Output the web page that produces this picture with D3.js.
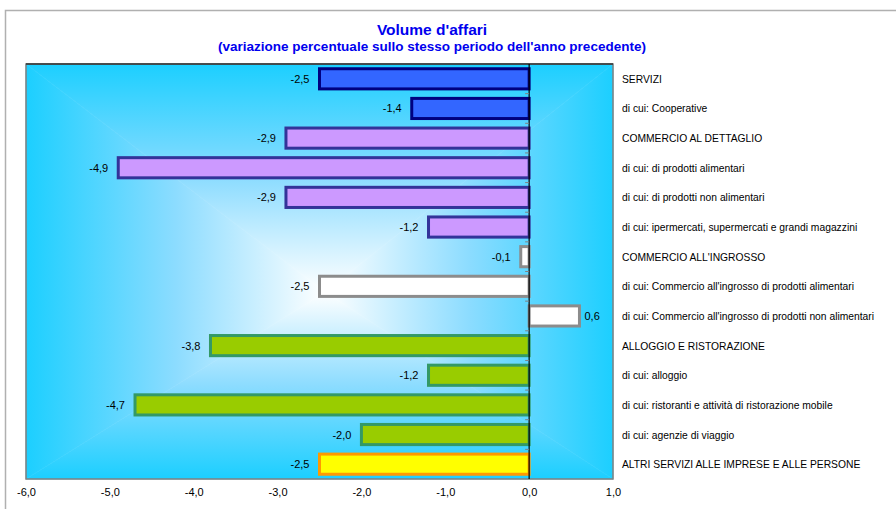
<!DOCTYPE html>
<html>
<head>
<meta charset="utf-8">
<script src="https://d3js.org/d3.v7.min.js"></script>
<style>
  body { margin: 0; background: #fff; }
  svg { display: block; font-family: Arial, "Liberation Sans", sans-serif; }
</style>
</head>
<body>
<svg id="chart" width="896" height="509"></svg>
<script>
"use strict";

var categories = [
    "SERVIZI",
    "di cui: Cooperative",
    "COMMERCIO AL DETTAGLIO",
    "di cui: di prodotti alimentari",
    "di cui: di prodotti non alimentari",
    "di cui: ipermercati, supermercati e grandi magazzini",
    "COMMERCIO ALL'INGROSSO",
    "di cui: Commercio all'ingrosso di prodotti alimentari",
    "di cui: Commercio all'ingrosso di prodotti non alimentari",
    "ALLOGGIO E RISTORAZIONE",
    "di cui: alloggio",
    "di cui: ristoranti e attività di ristorazione mobile",
    "di cui: agenzie di viaggio",
    "ALTRI SERVIZI ALLE IMPRESE E ALLE PERSONE"
];
var values = [-2.5, -1.4, -2.9, -4.9, -2.9, -1.2, -0.1, -2.5, 0.6, -3.8, -1.2, -4.7, -2.0, -2.5];
// which colour group each bar belongs to
var groups = [0, 0, 1, 1, 1, 1, 2, 2, 2, 3, 3, 3, 3, 4];
var xTicks = [-6, -5, -4, -3, -2, -1, 0, 1];

var groupFill = ["#3366ff", "#cc99ff", "#ffffff", "#99cc00", "#ffff00"];
var groupStroke = ["#000080", "#333399", "#8c8c8c", "#339966", "#ff9900"];

function fmt(v) {
    return v.toFixed(1).replace(".", ",");
}

var svg = d3.select("#chart");
var plot = { left: 26, right: 613, top: 64, bottom: 479 };

var x = d3.scaleLinear().domain([-6, 1]).range([plot.left, plot.right]);
var y = d3.scaleBand().domain(categories).range([plot.top, plot.bottom]).paddingInner(0.32).paddingOuter(0.16);

// outer chart frame
svg.append("path")
    .attr("d", "M5.5,509 L5.5,10.5 L896,10.5")
    .attr("fill", "none")
    .attr("stroke", "#b0b0b0")
    .attr("stroke-width", 1.5);

// titles
svg.append("text")
    .attr("x", 432).attr("y", 35)
    .attr("text-anchor", "middle")
    .attr("font-size", 15.5).attr("font-weight", "bold")
    .attr("fill", "#0000ee")
    .text("Volume d'affari");
svg.append("text")
    .attr("x", 432).attr("y", 51)
    .attr("text-anchor", "middle")
    .attr("font-size", 13.5).attr("font-weight", "bold")
    .attr("fill", "#0000ee")
    .text("(variazione percentuale sullo stesso periodo dell'anno precedente)");

// plot background: rectangular "from centre" gradient made of four triangles
var defs = svg.append("defs");
var cx = 325, cy = 292;
var edge = "#1ccfff", mid = "#ffffff";
function addGrad(id, x1, y1, x2, y2) {
    var g = defs.append("linearGradient")
        .attr("id", id)
        .attr("gradientUnits", "userSpaceOnUse")
        .attr("x1", x1).attr("y1", y1).attr("x2", x2).attr("y2", y2);
    g.append("stop").attr("offset", 0).attr("stop-color", edge);
    g.append("stop").attr("offset", 0.5).attr("stop-color", "#8cdcff");
    g.append("stop").attr("offset", 1).attr("stop-color", mid);
}
addGrad("gTop", 0, plot.top, 0, cy);
addGrad("gBottom", 0, plot.bottom, 0, cy);
addGrad("gLeft", plot.left, 0, cx, 0);
addGrad("gRight", plot.right, 0, cx, 0);

var tris = [
    { id: "gTop", p: [[plot.left, plot.top], [plot.right, plot.top], [cx, cy]] },
    { id: "gBottom", p: [[plot.left, plot.bottom], [plot.right, plot.bottom], [cx, cy]] },
    { id: "gLeft", p: [[plot.left, plot.top], [plot.left, plot.bottom], [cx, cy]] },
    { id: "gRight", p: [[plot.right, plot.top], [plot.right, plot.bottom], [cx, cy]] }
];
svg.append("g").selectAll("polygon")
    .data(tris)
    .join("polygon")
    .attr("points", function (d) { return d.p.map(function (q) { return q.join(","); }).join(" "); })
    .attr("fill", function (d) { return "url(#" + d.id + ")"; })
    .attr("stroke", function (d) { return "url(#" + d.id + ")"; })
    .attr("stroke-width", 0.6);

// plot border
svg.append("rect")
    .attr("x", plot.left).attr("y", plot.top)
    .attr("width", plot.right - plot.left).attr("height", plot.bottom - plot.top)
    .attr("fill", "none")
    .attr("stroke", "#808080")
    .attr("stroke-width", 1.5);
svg.append("line")
    .attr("x1", plot.left).attr("x2", plot.right)
    .attr("y1", plot.top).attr("y2", plot.top)
    .attr("stroke", "#333").attr("stroke-width", 1.5);

// bars
var bars = categories.map(function (c, i) {
    return { cat: c, v: values[i], g: groups[i] };
});
svg.append("g").selectAll("rect")
    .data(bars)
    .join("rect")
    .attr("x", function (d) { return Math.min(x(0), x(d.v)); })
    .attr("y", function (d) { return y(d.cat); })
    .attr("width", function (d) { return Math.abs(x(d.v) - x(0)); })
    .attr("height", y.bandwidth())
    .attr("fill", function (d) { return groupFill[d.g]; })
    .attr("stroke", function (d) { return groupStroke[d.g]; })
    .attr("stroke-width", 3);

// value labels
svg.append("g").selectAll("text")
    .data(bars)
    .join("text")
    .attr("x", function (d) { return d.v < 0 ? x(d.v) - 10 : x(d.v) + 5; })
    .attr("y", function (d) { return y(d.cat) + y.bandwidth() / 2 + 4; })
    .attr("text-anchor", function (d) { return d.v < 0 ? "end" : "start"; })
    .attr("font-size", 11)
    .attr("fill", "#000")
    .text(function (d) { return fmt(d.v); });

// zero line with small category ticks
var zero = svg.append("g");
zero.append("line")
    .attr("x1", x(0)).attr("x2", x(0))
    .attr("y1", plot.top).attr("y2", plot.bottom)
    .attr("stroke", "#000").attr("stroke-width", 1.2);
zero.selectAll("line.tick")
    .data(categories.slice(1))
    .join("line")
    .attr("class", "tick")
    .attr("x1", x(0) - 4).attr("x2", x(0))
    .attr("y1", function (d) { return y(d) - y.step() * y.paddingInner() / 2; })
    .attr("y2", function (d) { return y(d) - y.step() * y.paddingInner() / 2; })
    .attr("stroke", "#808080").attr("stroke-width", 1);

// category labels to the right of the plot
svg.append("g").selectAll("text")
    .data(categories)
    .join("text")
    .attr("x", 622)
    .attr("y", function (d) { return y(d) + y.bandwidth() / 2 + 4; })
    .attr("font-size", 10.3)
    .attr("fill", "#000")
    .text(function (d) { return d; });

// x axis labels
var xAxis = d3.axisBottom(x).tickValues(xTicks).tickSize(0).tickPadding(9).tickFormat(fmt);
svg.append("g")
    .attr("transform", "translate(0," + plot.bottom + ")")
    .call(xAxis)
    .call(function (g) { g.select(".domain").remove(); })
    .selectAll("text")
    .attr("font-size", 11)
    .attr("font-family", "Arial, 'Liberation Sans', sans-serif")
    .attr("fill", "#000");
</script>
</body>
</html>
